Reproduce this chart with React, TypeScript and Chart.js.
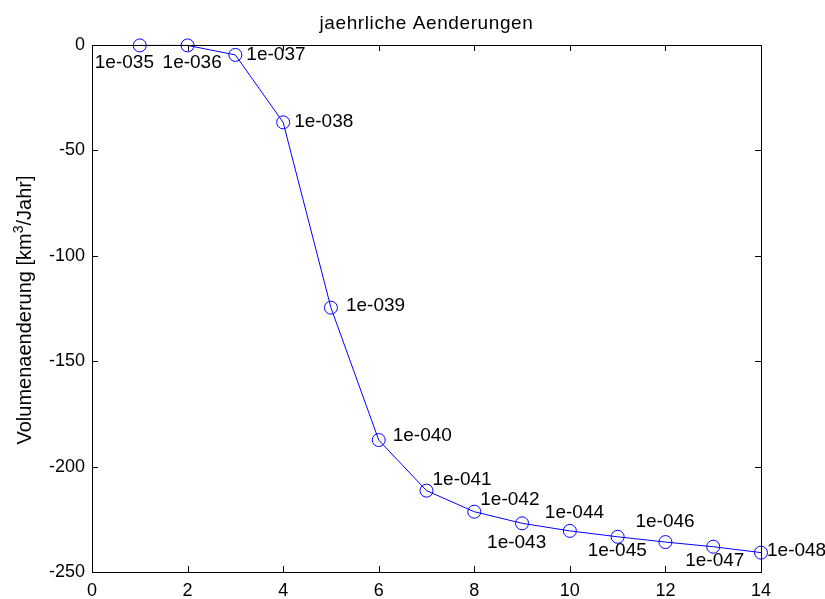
import React, { useEffect, useRef } from "react";
import { Chart, registerables } from "chart.js";

Chart.register(...registerables);

const years = [1, 2, 3, 4, 5, 6, 7, 8, 9, 10, 11, 12, 13, 14];
const changes = [-0.2, -0.2, -4.7, -36.7, -124.6, -187.4, -211.4, -221.4, -226.9, -230.5, -233.3, -235.8, -238.0, -240.8];
const pointLabels = ["1e-035", "1e-036", "1e-037", "1e-038", "1e-039", "1e-040", "1e-041", "1e-042", "1e-043", "1e-044", "1e-045", "1e-046", "1e-047", "1e-048"];
const xTicks = [0, 2, 4, 6, 8, 10, 12, 14];
const yTicks = [0, -50, -100, -150, -200, -250];
const titleText = "jaehrliche Aenderungen";
const yLabelMain = "Volumenaenderung [km";
const yLabelSup = "3";
const yLabelEnd = "/Jahr]";

// label placement (pixel offsets from marker: left edge dx, vertical middle dy)
const labelDx = [-45, -25, 11, 11, 15, 14, 6, 6, -35, -25, -30, -30, -28, 6];
const labelDy = [17, 17, 0, -1, -2, -4, -11, -12, 19, -18, 14, -20, 14, -2];

const FONT = "'Liberation Sans', Arial, Helvetica, sans-serif";

const decorPlugin = {
  id: "decor",
  afterDraw(chart: any) {
    const { ctx, chartArea } = chart;
    const xs = chart.scales.x;
    const ys = chart.scales.y;
    const { left, right, top, bottom } = chartArea;
    ctx.save();
    // box
    ctx.strokeStyle = "#000";
    ctx.lineWidth = 1;
    ctx.strokeRect(Math.round(left) + 0.5, Math.round(top) + 0.5, Math.round(right - left), Math.round(bottom - top));
    const tl = 6;
    ctx.beginPath();
    for (const t of xTicks) {
      const px = Math.round(xs.getPixelForValue(t)) + 0.5;
      ctx.moveTo(px, bottom);
      ctx.lineTo(px, bottom - tl);
      ctx.moveTo(px, top);
      ctx.lineTo(px, top + tl);
    }
    for (const t of yTicks) {
      const py = Math.round(ys.getPixelForValue(t)) + 0.5;
      ctx.moveTo(left, py);
      ctx.lineTo(left + tl, py);
      ctx.moveTo(right, py);
      ctx.lineTo(right - tl, py);
    }
    ctx.stroke();

    ctx.fillStyle = "#000";
    ctx.font = `18px ${FONT}`;
    ctx.textAlign = "center";
    ctx.textBaseline = "alphabetic";
    for (const t of xTicks) {
      ctx.fillText(String(t), xs.getPixelForValue(t), bottom + 24);
    }
    ctx.textAlign = "right";
    ctx.textBaseline = "middle";
    for (const t of yTicks) {
      ctx.fillText(String(t), left - 7, ys.getPixelForValue(t));
    }

    // title
    ctx.font = `19px ${FONT}`;
    (ctx as any).letterSpacing = "0.6px";
    ctx.textAlign = "center";
    ctx.textBaseline = "alphabetic";
    ctx.fillText(titleText, (left + right) / 2, 29);
    (ctx as any).letterSpacing = "0px";

    // y label with superscript
    ctx.save();
    ctx.translate(31, 310);
    ctx.rotate(-Math.PI / 2);
    const mainFont = `20px ${FONT}`;
    const supFont = `14px ${FONT}`;
    ctx.font = mainFont;
    const w1 = ctx.measureText(yLabelMain).width;
    const w3 = ctx.measureText(yLabelEnd).width;
    ctx.font = supFont;
    const w2 = ctx.measureText(yLabelSup).width;
    const total = w1 + w2 + w3;
    let x0 = -total / 2;
    ctx.textAlign = "left";
    ctx.textBaseline = "alphabetic";
    ctx.font = mainFont;
    ctx.fillText(yLabelMain, x0, 0);
    x0 += w1;
    ctx.font = supFont;
    ctx.fillText(yLabelSup, x0, -8);
    x0 += w2;
    ctx.font = mainFont;
    ctx.fillText(yLabelEnd, x0, 0);
    ctx.restore();

    // point labels
    ctx.font = `19px ${FONT}`;
    ctx.textAlign = "left";
    ctx.textBaseline = "middle";
    for (let i = 0; i < years.length; i++) {
      const px = xs.getPixelForValue(years[i]);
      const py = ys.getPixelForValue(changes[i]);
      ctx.fillText(pointLabels[i], px + labelDx[i], py + labelDy[i]);
    }
    ctx.restore();
  },
};

export default function App() {
  const ref = useRef<HTMLCanvasElement | null>(null);
  useEffect(() => {
    if (!ref.current) return;
    const chart = new Chart(ref.current, {
      type: "line",
      data: {
        datasets: [
          {
            data: years.map((x, i) => ({ x, y: changes[i] })),
            borderColor: "#0000ff",
            borderWidth: 1,
            backgroundColor: "rgba(0,0,0,0)",
            pointStyle: "circle",
            pointRadius: 6.5,
            pointBorderColor: "#0000ff",
            pointBackgroundColor: "rgba(0,0,0,0)",
            pointBorderWidth: 1,
            tension: 0,
            fill: false,
            clip: false as any,
          },
        ],
      },
      options: {
        animation: false,
        responsive: false,
        maintainAspectRatio: false,
        devicePixelRatio: 1,
        layout: { padding: { left: 92, top: 45, right: 64, bottom: 27 } },
        plugins: { legend: { display: false }, tooltip: { enabled: false }, title: { display: false } },
        scales: {
          x: { type: "linear", min: 0, max: 14, display: false },
          y: { type: "linear", min: -250, max: 0, display: false },
        },
      },
      plugins: [decorPlugin],
    });
    return () => chart.destroy();
  }, []);
  return (
    <div style={{ position: "fixed", left: 0, top: 0, width: 825, height: 599, background: "#fff" }}>
      <canvas ref={ref} width={825} height={599} style={{ width: 825, height: 599 }} />
    </div>
  );
}
